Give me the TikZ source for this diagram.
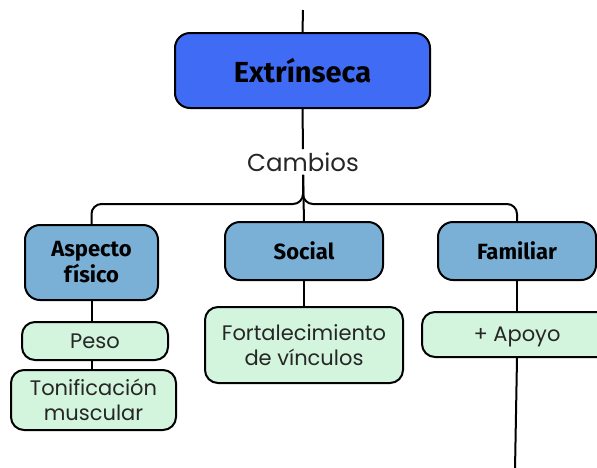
\documentclass[tikz,border=0pt]{standalone}
\usepackage{fontspec}
\setmainfont{Poppins}
\newfontfamily\headfont{Fira Sans}
\usepackage{tikz}
\definecolor{extblue}{RGB}{64,108,245}
\definecolor{catblue}{RGB}{122,176,214}
\definecolor{itemgreen}{RGB}{211,245,221}

\begin{document}
\begin{tikzpicture}[x=1pt,y=-1pt,
		box/.style={draw=black,line width=2pt,rounded corners=15pt,align=center,inner sep=0pt},
		topbox/.style={box,fill=extblue,font=\headfont\bfseries\fontsize{29}{32}\selectfont},
		catbox/.style={box,fill=catblue,font=\headfont\bfseries\fontsize{22}{26}\selectfont},
		itembox/.style={box,fill=itemgreen,rounded corners=13pt,font=\fontsize{21}{25}\selectfont,text=black!85},
		link/.style={line width=2pt}]
			\useasboundingbox (0,0) rectangle (597,467);
			
			% top
			\coordinate (top) at (303,10);
			\node[topbox,minimum width=255pt,minimum height=75pt] (ext) at (302.5,70.5) {Extrínseca};
			\node[font=\fontsize{24.5}{28}\selectfont,text=black!85] (camb) at (303,162) {Cambios};
			
			% categories
			\node[catbox,minimum width=133pt,minimum height=75pt] (asp) at (91.5,262.5) {Aspecto\\físico};
			\node[catbox,minimum width=158pt,minimum height=58pt] (soc) at (304,251) {Social};
			\node[catbox,minimum width=158pt,minimum height=58pt] (fam) at (517,251) {Familiar};
			
			% items
			\node[itembox,minimum width=146pt,minimum height=38pt] (peso) at (95,341) {Peso};
			\node[itembox,minimum width=165pt,minimum height=60pt] (toni) at (93.5,400) {Tonificación\\muscular};
			\node[itembox,minimum width=198pt,minimum height=76pt] (fort) at (304,345) {Fortalecimiento\\de vínculos};
			\node[itembox,text depth=0pt,minimum width=190pt,minimum height=45pt] (apoyo) at (517,334.5) {+ Apoyo};
			\coordinate (bot) at (515,470);
			
			\draw[link] (top) -- (ext.north);
			\draw[link] (ext.south) -- (camb.north);
			\draw[link] (camb.south) -- (soc.north);
			\draw[link,rounded corners=10pt] (camb.south) -- ++(0,12) |- ([yshift=20pt]asp.north) -- (asp.north);
			\draw[link,rounded corners=10pt] (camb.south) -- ++(0,12) |- ([yshift=17pt]fam.north) -- (fam.north);
			\draw[link] (asp.south) -- (asp.south |- peso.north);
			\draw[link] (asp.south |- peso.south) -- (asp.south |- toni.north);
			\draw[link] (soc.south) -- (fort.north);
			\draw[link] (fam.south) -- (apoyo.north);
			\draw[link] (apoyo.south) -- (bot);
			
		\end{tikzpicture}
\end{document}
